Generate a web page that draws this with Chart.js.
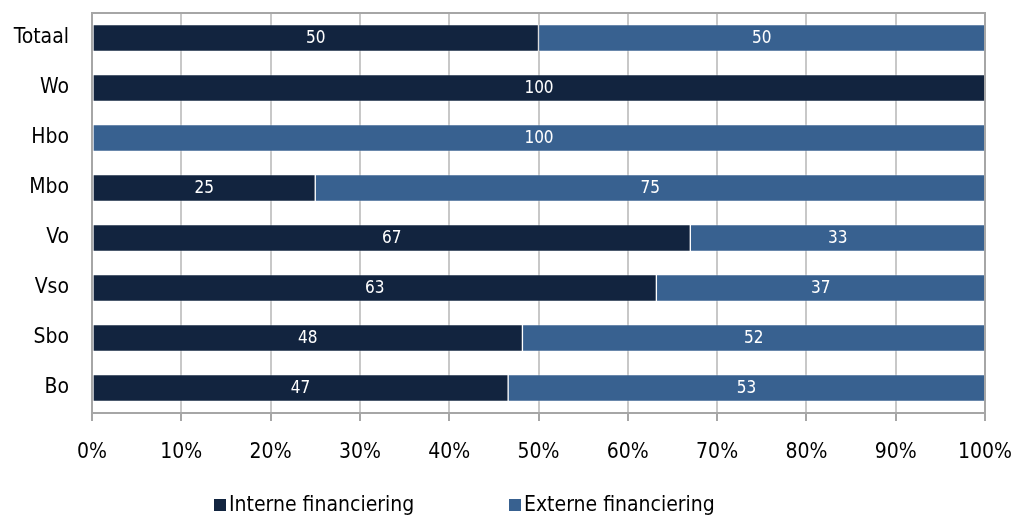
<!DOCTYPE html>
<html lang="nl">
<head>
<meta charset="UTF-8">
<title>Interne en externe financiering</title>
<script src="https://cdn.jsdelivr.net/npm/chart.js@4"></script>
<style>
  * { margin: 0; padding: 0; box-sizing: border-box; }
  html, body { width: 1016px; height: 516px; background: #fff; overflow: hidden; }
  #wrap { position: relative; width: 1016px; height: 516px; }
</style>
</head>
<body>
<div id="wrap"><canvas id="chart"></canvas></div>
<script>
// values (percent of row)
const categories = ['Totaal', 'Wo', 'Hbo', 'Mbo', 'Vo', 'Vso', 'Sbo', 'Bo'];
const interne = [50, 100, 0, 25, 67, 63.2, 48.2, 46.6];
const externe = [50, 0, 100, 75, 33, 36.8, 51.8, 53.4];
const seriesNames = ['Interne financiering', 'Externe financiering'];
const xTicks = [0, 10, 20, 30, 40, 50, 60, 70, 80, 90, 100];

const FONT = "Tahoma, 'DejaVu Sans Condensed', 'DejaVu Sans', sans-serif";
const navy = '#12243f', blue = '#386190';
const axisGray = '#a6a6a6', gridGray = '#c8c8c8';

// white value labels in the middle of each segment
const valueLabels = {
  id: 'valueLabels',
  afterDatasetsDraw(chart) {
    const ctx = chart.ctx;
    ctx.save();
    ctx.fillStyle = '#fff';
    ctx.font = '17px ' + FONT;
    ctx.textAlign = 'center';
    ctx.textBaseline = 'middle';
    chart.data.datasets.forEach((ds, i) => {
      chart.getDatasetMeta(i).data.forEach((bar, j) => {
        const v = ds.data[j];
        if (!v) return;
        ctx.fillText(Math.round(v), (bar.x + bar.base) / 2, bar.y + 1);
      });
    });
    ctx.restore();
  }
};

// plot frame (top + right) and legend underneath
const frameAndLegend = {
  id: 'frameAndLegend',
  afterDraw(chart) {
    const ctx = chart.ctx, a = chart.chartArea;
    ctx.save();
    ctx.strokeStyle = axisGray;
    ctx.lineWidth = 2;
    ctx.beginPath();
    ctx.moveTo(a.left, a.top);
    ctx.lineTo(a.right, a.top);
    ctx.lineTo(a.right, a.bottom);
    ctx.stroke();

    ctx.font = '21px ' + FONT;
    ctx.textBaseline = 'middle';
    ctx.textAlign = 'left';
    const items = [{ x: 214 }, { x: 509 }];
    const y = 505;
    chart.data.datasets.forEach((ds, i) => {
      ctx.fillStyle = ds.backgroundColor;
      ctx.fillRect(items[i].x, y - 6, 12, 12);
      ctx.fillStyle = '#000';
      ctx.fillText(ds.label, items[i].x + 15, y + 1);
    });
    ctx.restore();
  }
};

new Chart(document.getElementById('chart'), {
  type: 'bar',
  data: {
    labels: categories,
    datasets: [
      { label: seriesNames[0], data: interne, backgroundColor: navy },
      { label: seriesNames[1], data: externe, backgroundColor: blue }
    ]
  },
  options: {
    indexAxis: 'y',
    responsive: true,
    maintainAspectRatio: false,
    animation: false,
    datasets: {
      bar: {
        barThickness: 27,
        borderWidth: 1,
        borderColor: 'rgba(255,255,255,0.3)',
        borderSkipped: false
      }
    },
    layout: { padding: { top: 13, right: 31, left: 0, bottom: 43 } },
    plugins: { legend: { display: false }, tooltip: { enabled: false } },
    scales: {
      x: {
        stacked: true,
        min: 0, max: 100,
        afterBuildTicks: (s) => { s.ticks = xTicks.map(v => ({ value: v })); },
        afterFit: (s) => { s.height = 60; s.paddingLeft = 0; s.paddingRight = 0; },
        grid: { color: gridGray, lineWidth: 2, tickColor: axisGray, tickLength: 8, drawOnChartArea: true },
        border: { color: axisGray, width: 2 },
        ticks: { color: '#000', font: { family: FONT, size: 21 }, padding: 19, maxRotation: 0, callback: (v) => v + '%' }
      },
      y: {
        stacked: true,
        afterFit: (s) => { s.width = 92; s.paddingTop = 0; s.paddingBottom = 0; },
        grid: { display: false },
        border: { color: axisGray, width: 2 },
        ticks: { color: '#000', font: { family: FONT, size: 21 }, padding: 15 }
      }
    }
  },
  plugins: [valueLabels, frameAndLegend]
});
</script>
</body>
</html>
